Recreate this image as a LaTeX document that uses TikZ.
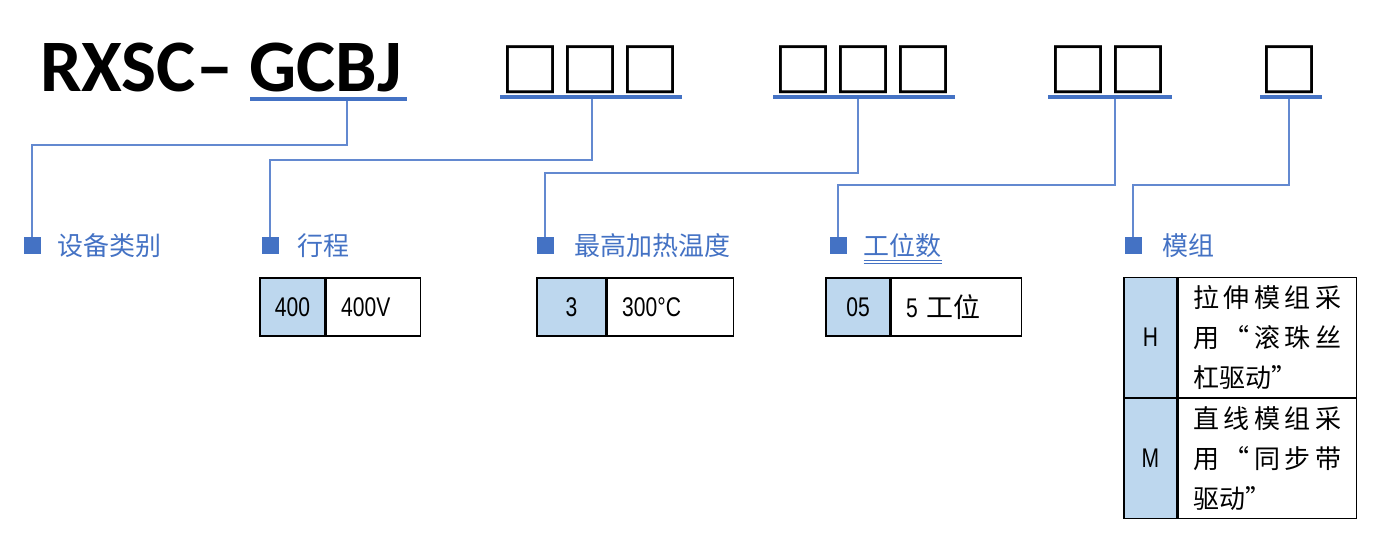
\documentclass[tikz,border=0pt]{standalone}
\usepackage{fontspec}
\setmainfont{Carlito}
\newfontfamily\cjk{Noto Sans CJK SC}
\newfontfamily\narrow[FakeStretch=0.78]{Liberation Sans}
\usetikzlibrary{positioning}
\definecolor{accent}{HTML}{4472C4}
\definecolor{linkblue}{HTML}{6389D0}
\definecolor{cellblue}{HTML}{BDD7EE}
\tikzset{%
	code/.style     = {anchor=base west, inner sep=0pt, font=\fontsize{74}{80}\selectfont\bfseries},
	slots/.style    = {anchor=base west, inner sep=0pt, font=\cjk\fontsize{60}{62}\selectfont\bfseries},
	bar/.style      = {accent, line width=4pt},
	link/.style     = {linkblue, line width=1.4pt},
	marker/.style   = {fill=accent, minimum size=17pt, inner sep=0pt},
	cat/.style      = {anchor=west, inner sep=0pt, text=accent, font=\cjk\fontsize{26}{30}\selectfont},
	keycell/.style  = {draw, line width=1.2pt, fill=cellblue, minimum width=#1, minimum height=58pt, inner sep=0pt, font=\narrow\fontsize{27}{30}\selectfont},
	valcell/.style  = {draw, line width=1.2pt, minimum height=58pt, text width=#1, inner xsep=15pt, inner ysep=0pt, align=left, font=\narrow\fontsize{27}{30}\selectfont},
	notecell/.style = {draw, line width=1.2pt, minimum height=120pt, text width=148pt, inner xsep=15pt, inner ysep=0pt, align=left, font=\cjk\fontsize{26}{40}\selectfont},
}

\begin{document}
\begin{tikzpicture}[x=1pt, y=-1pt]
	\useasboundingbox (0,0) rectangle (1382,534);
	% model code
	\node[code] (series) at (40,92) {RXSC– GCBJ};
	\node[slots] (g1) at (500,93) {□□□};
	\node[slots] (g2) at (773,93) {□□□};
	\node[slots] (g3) at (1048,93) {□□};
	\node[slots] (g4) at (1259,93) {□};
	\draw[bar] (250,99) -- (407,99);
	\draw[bar] (500,97) -- (682,97);
	\draw[bar] (773,97) -- (955,97);
	\draw[bar] (1048,97) -- (1172,97);
	\draw[bar] (1260,97) -- (1322,97);
	\coordinate (c0) at (347,101);
	\coordinate (c1) at (592,99);
	\coordinate (c2) at (858,99);
	\coordinate (c3) at (1115,99);
	\coordinate (c4) at (1289,99);

	% categories
	\node[marker] (m1) at (32,246) {};
	\node[marker] (m2) at (270,246) {};
	\node[marker] (m3) at (545,246) {};
	\node[marker] (m4) at (838,246) {};
	\node[marker] (m5) at (1133,246) {};
	\node[cat, right=17pt of m1] (l1) {设备类别};
	\node[cat, right=19pt of m2] (l2) {行程};
	\node[cat, right=21pt of m3] (l3) {最高加热温度};
	\node[cat, right=17pt of m4] (l4) {工位数};
	\node[cat, right=21pt of m5] (l5) {模组};
	\draw[accent, line width=1pt] ([yshift=-2pt]l4.south west) -- ([yshift=-2pt]l4.south east);
	\draw[accent, line width=1pt] ([yshift=-5pt]l4.south west) -- ([yshift=-5pt]l4.south east);

	\draw[link] (c0) -- ++(0,44) -| (m1);
	\draw[link] (c1) -- ++(0,61) -| (m2);
	\draw[link] (c2) -- ++(0,74) -| (m3);
	\draw[link] (c3) -- ++(0,86) -| (m4);
	\draw[link] (c4) -- ++(0,86) -| (m5);

	% option tables
	\node[keycell=65pt] (t1k) at (292.5,307) {400};
	\node[valcell=64pt, right=0pt of t1k] (t1v) {400V};
	\node[keycell=69pt] (t2k) at (571.5,307) {3};
	\node[valcell=96pt, right=0pt of t2k] (t2v) {300°C};
	\node[keycell=64pt] (t3k) at (858,307) {05};
	\node[valcell=100pt, right=0pt of t3k] (t3v) {5 {\cjk 工位}};

	\node[keycell=53pt, minimum height=120pt] (t4h) at (1150.5,337.5) {H};
	\node[keycell=53pt, minimum height=120pt, below=0pt of t4h] (t4m) {M};
	\node[notecell, right=0pt of t4h] (t4a) {\makebox[148pt][s]{拉\hfill 伸\hfill 模\hfill 组\hfill 采}\\
		\makebox[148pt][s]{用\hfill “\hfill 滚\hfill 珠\hfill 丝}\\
		杠驱动”};
	\node[notecell, right=0pt of t4m] (t4b) {\makebox[148pt][s]{直\hfill 线\hfill 模\hfill 组\hfill 采}\\
		\makebox[148pt][s]{用\hfill “\hfill 同\hfill 步\hfill 带}\\
		驱动”};
\end{tikzpicture}
\end{document}
